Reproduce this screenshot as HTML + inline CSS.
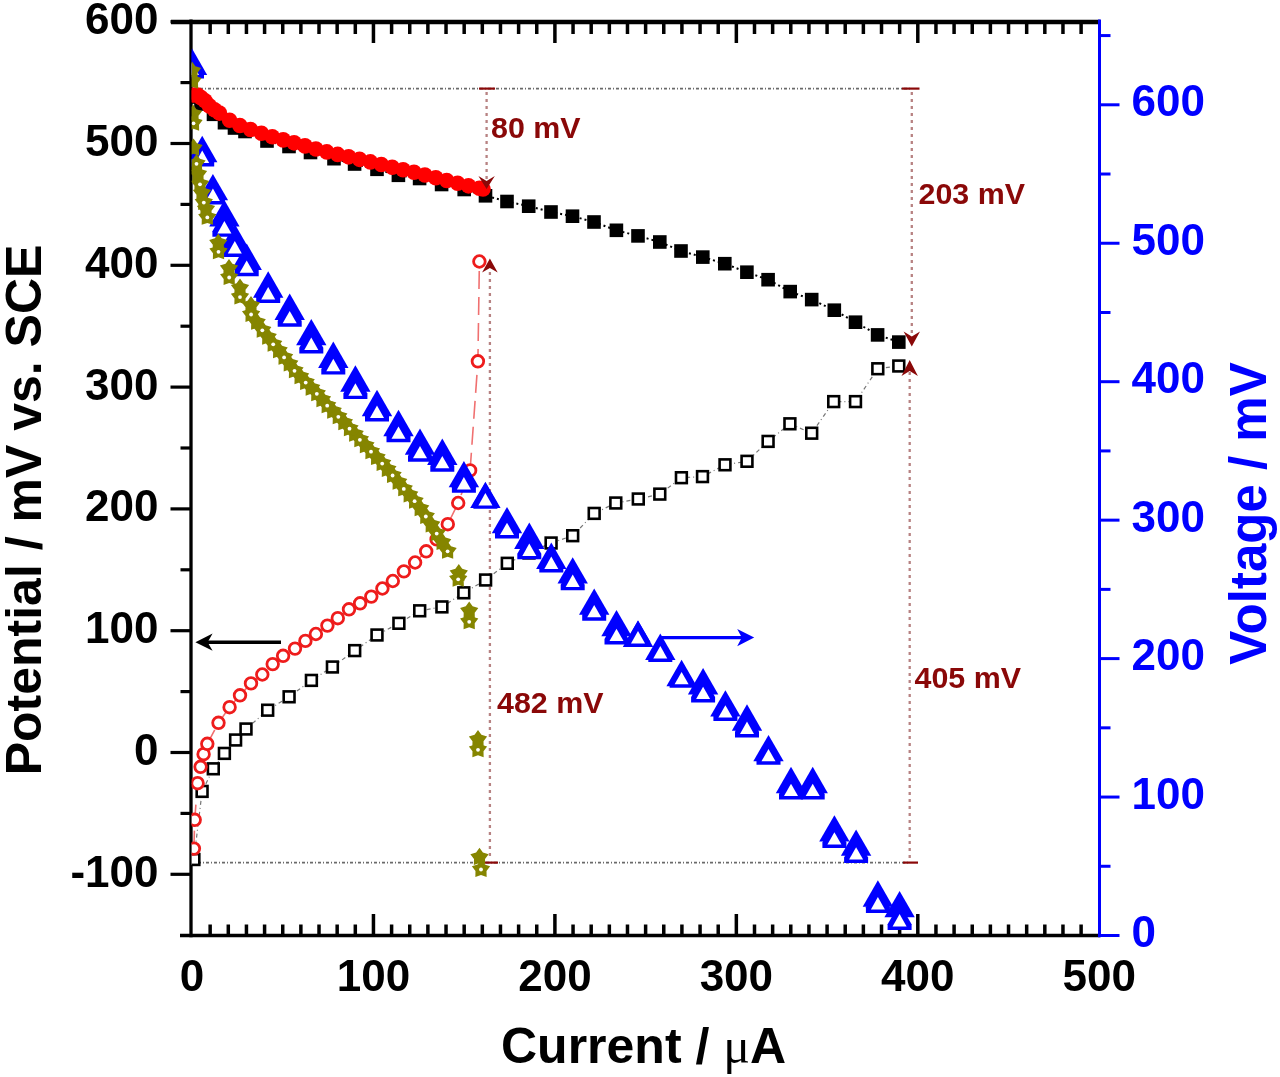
<!DOCTYPE html>
<html><head><meta charset="utf-8"><title>chart</title>
<style>html,body{margin:0;padding:0;background:#fff;}body{width:1280px;height:1077px;overflow:hidden;}svg{display:block;filter:blur(0.5px);}</style>
</head><body>
<svg width="1280" height="1077" viewBox="0 0 1280 1077">
<defs>
<clipPath id="plot"><rect x="191.6" y="21" width="907.4" height="914"/></clipPath>
<g id="triA"><path d="M0,0 L15.2,26.4 L-15.2,26.4 Z" fill="#0000ff"/></g>
<g id="triB"><path d="M0,0 L12,20.8 L12,26.4 L-12,26.4 L-12,20.8 Z" fill="#0000ff"/><path d="M0,10.6 L7,23 L-7,23 Z" fill="#fff"/></g>
<path id="star" d="M0,-9.6 L3.41,-4.69 L9.13,-2.97 L5.52,1.79 L5.64,7.77 L0,5.8 L-5.64,7.77 L-5.52,1.79 L-9.13,-2.97 L-3.41,-4.69 Z" fill="#858500" />
</defs>
<rect width="1280" height="1077" fill="#fff"/>
<g stroke="#000" stroke-linecap="butt">
<line x1="171" y1="22" x2="1100" y2="22" stroke-width="4.4"/>
<line x1="180" y1="935.5" x2="1100" y2="935.5" stroke-width="3.6"/>
<line x1="191" y1="19.5" x2="191" y2="937.3" stroke-width="3.3"/>
<line x1="170.5" y1="874.3" x2="191" y2="874.3" stroke-width="3.2"/>
<line x1="170.5" y1="752.5" x2="191" y2="752.5" stroke-width="3.2"/>
<line x1="170.5" y1="630.7" x2="191" y2="630.7" stroke-width="3.2"/>
<line x1="170.5" y1="508.9" x2="191" y2="508.9" stroke-width="3.2"/>
<line x1="170.5" y1="387.1" x2="191" y2="387.1" stroke-width="3.2"/>
<line x1="170.5" y1="265.3" x2="191" y2="265.3" stroke-width="3.2"/>
<line x1="170.5" y1="143.5" x2="191" y2="143.5" stroke-width="3.2"/>
<line x1="170.5" y1="21.7" x2="191" y2="21.7" stroke-width="3.2"/>
<line x1="180.5" y1="813.4" x2="191" y2="813.4" stroke-width="3.2"/>
<line x1="180.5" y1="691.6" x2="191" y2="691.6" stroke-width="3.2"/>
<line x1="180.5" y1="569.8" x2="191" y2="569.8" stroke-width="3.2"/>
<line x1="180.5" y1="448" x2="191" y2="448" stroke-width="3.2"/>
<line x1="180.5" y1="326.2" x2="191" y2="326.2" stroke-width="3.2"/>
<line x1="180.5" y1="204.4" x2="191" y2="204.4" stroke-width="3.2"/>
<line x1="180.5" y1="82.6" x2="191" y2="82.6" stroke-width="3.2"/>
<line x1="210.15" y1="22" x2="210.15" y2="34" stroke-width="3.5"/>
<line x1="210.15" y1="935.5" x2="210.15" y2="924.5" stroke-width="3.5"/>
<line x1="228.29" y1="22" x2="228.29" y2="34" stroke-width="3.5"/>
<line x1="228.29" y1="935.5" x2="228.29" y2="924.5" stroke-width="3.5"/>
<line x1="246.44" y1="22" x2="246.44" y2="34" stroke-width="3.5"/>
<line x1="246.44" y1="935.5" x2="246.44" y2="924.5" stroke-width="3.5"/>
<line x1="264.58" y1="22" x2="264.58" y2="34" stroke-width="3.5"/>
<line x1="264.58" y1="935.5" x2="264.58" y2="924.5" stroke-width="3.5"/>
<line x1="282.73" y1="22" x2="282.73" y2="34" stroke-width="3.5"/>
<line x1="282.73" y1="935.5" x2="282.73" y2="924.5" stroke-width="3.5"/>
<line x1="300.87" y1="22" x2="300.87" y2="34" stroke-width="3.5"/>
<line x1="300.87" y1="935.5" x2="300.87" y2="924.5" stroke-width="3.5"/>
<line x1="319.01" y1="22" x2="319.01" y2="34" stroke-width="3.5"/>
<line x1="319.01" y1="935.5" x2="319.01" y2="924.5" stroke-width="3.5"/>
<line x1="337.16" y1="22" x2="337.16" y2="34" stroke-width="3.5"/>
<line x1="337.16" y1="935.5" x2="337.16" y2="924.5" stroke-width="3.5"/>
<line x1="355.31" y1="22" x2="355.31" y2="34" stroke-width="3.5"/>
<line x1="355.31" y1="935.5" x2="355.31" y2="924.5" stroke-width="3.5"/>
<line x1="373.45" y1="22" x2="373.45" y2="43" stroke-width="3.5"/>
<line x1="373.45" y1="935.5" x2="373.45" y2="914" stroke-width="3.5"/>
<line x1="391.6" y1="22" x2="391.6" y2="34" stroke-width="3.5"/>
<line x1="391.6" y1="935.5" x2="391.6" y2="924.5" stroke-width="3.5"/>
<line x1="409.74" y1="22" x2="409.74" y2="34" stroke-width="3.5"/>
<line x1="409.74" y1="935.5" x2="409.74" y2="924.5" stroke-width="3.5"/>
<line x1="427.88" y1="22" x2="427.88" y2="34" stroke-width="3.5"/>
<line x1="427.88" y1="935.5" x2="427.88" y2="924.5" stroke-width="3.5"/>
<line x1="446.03" y1="22" x2="446.03" y2="34" stroke-width="3.5"/>
<line x1="446.03" y1="935.5" x2="446.03" y2="924.5" stroke-width="3.5"/>
<line x1="464.18" y1="22" x2="464.18" y2="34" stroke-width="3.5"/>
<line x1="464.18" y1="935.5" x2="464.18" y2="924.5" stroke-width="3.5"/>
<line x1="482.32" y1="22" x2="482.32" y2="34" stroke-width="3.5"/>
<line x1="482.32" y1="935.5" x2="482.32" y2="924.5" stroke-width="3.5"/>
<line x1="500.46" y1="22" x2="500.46" y2="34" stroke-width="3.5"/>
<line x1="500.46" y1="935.5" x2="500.46" y2="924.5" stroke-width="3.5"/>
<line x1="518.61" y1="22" x2="518.61" y2="34" stroke-width="3.5"/>
<line x1="518.61" y1="935.5" x2="518.61" y2="924.5" stroke-width="3.5"/>
<line x1="536.75" y1="22" x2="536.75" y2="34" stroke-width="3.5"/>
<line x1="536.75" y1="935.5" x2="536.75" y2="924.5" stroke-width="3.5"/>
<line x1="554.9" y1="22" x2="554.9" y2="43" stroke-width="3.5"/>
<line x1="554.9" y1="935.5" x2="554.9" y2="914" stroke-width="3.5"/>
<line x1="573.05" y1="22" x2="573.05" y2="34" stroke-width="3.5"/>
<line x1="573.05" y1="935.5" x2="573.05" y2="924.5" stroke-width="3.5"/>
<line x1="591.19" y1="22" x2="591.19" y2="34" stroke-width="3.5"/>
<line x1="591.19" y1="935.5" x2="591.19" y2="924.5" stroke-width="3.5"/>
<line x1="609.34" y1="22" x2="609.34" y2="34" stroke-width="3.5"/>
<line x1="609.34" y1="935.5" x2="609.34" y2="924.5" stroke-width="3.5"/>
<line x1="627.48" y1="22" x2="627.48" y2="34" stroke-width="3.5"/>
<line x1="627.48" y1="935.5" x2="627.48" y2="924.5" stroke-width="3.5"/>
<line x1="645.62" y1="22" x2="645.62" y2="34" stroke-width="3.5"/>
<line x1="645.62" y1="935.5" x2="645.62" y2="924.5" stroke-width="3.5"/>
<line x1="663.77" y1="22" x2="663.77" y2="34" stroke-width="3.5"/>
<line x1="663.77" y1="935.5" x2="663.77" y2="924.5" stroke-width="3.5"/>
<line x1="681.91" y1="22" x2="681.91" y2="34" stroke-width="3.5"/>
<line x1="681.91" y1="935.5" x2="681.91" y2="924.5" stroke-width="3.5"/>
<line x1="700.06" y1="22" x2="700.06" y2="34" stroke-width="3.5"/>
<line x1="700.06" y1="935.5" x2="700.06" y2="924.5" stroke-width="3.5"/>
<line x1="718.21" y1="22" x2="718.21" y2="34" stroke-width="3.5"/>
<line x1="718.21" y1="935.5" x2="718.21" y2="924.5" stroke-width="3.5"/>
<line x1="736.35" y1="22" x2="736.35" y2="43" stroke-width="3.5"/>
<line x1="736.35" y1="935.5" x2="736.35" y2="914" stroke-width="3.5"/>
<line x1="754.5" y1="22" x2="754.5" y2="34" stroke-width="3.5"/>
<line x1="754.5" y1="935.5" x2="754.5" y2="924.5" stroke-width="3.5"/>
<line x1="772.64" y1="22" x2="772.64" y2="34" stroke-width="3.5"/>
<line x1="772.64" y1="935.5" x2="772.64" y2="924.5" stroke-width="3.5"/>
<line x1="790.78" y1="22" x2="790.78" y2="34" stroke-width="3.5"/>
<line x1="790.78" y1="935.5" x2="790.78" y2="924.5" stroke-width="3.5"/>
<line x1="808.93" y1="22" x2="808.93" y2="34" stroke-width="3.5"/>
<line x1="808.93" y1="935.5" x2="808.93" y2="924.5" stroke-width="3.5"/>
<line x1="827.08" y1="22" x2="827.08" y2="34" stroke-width="3.5"/>
<line x1="827.08" y1="935.5" x2="827.08" y2="924.5" stroke-width="3.5"/>
<line x1="845.22" y1="22" x2="845.22" y2="34" stroke-width="3.5"/>
<line x1="845.22" y1="935.5" x2="845.22" y2="924.5" stroke-width="3.5"/>
<line x1="863.37" y1="22" x2="863.37" y2="34" stroke-width="3.5"/>
<line x1="863.37" y1="935.5" x2="863.37" y2="924.5" stroke-width="3.5"/>
<line x1="881.51" y1="22" x2="881.51" y2="34" stroke-width="3.5"/>
<line x1="881.51" y1="935.5" x2="881.51" y2="924.5" stroke-width="3.5"/>
<line x1="899.65" y1="22" x2="899.65" y2="34" stroke-width="3.5"/>
<line x1="899.65" y1="935.5" x2="899.65" y2="924.5" stroke-width="3.5"/>
<line x1="917.8" y1="22" x2="917.8" y2="43" stroke-width="3.5"/>
<line x1="917.8" y1="935.5" x2="917.8" y2="914" stroke-width="3.5"/>
<line x1="935.95" y1="22" x2="935.95" y2="34" stroke-width="3.5"/>
<line x1="935.95" y1="935.5" x2="935.95" y2="924.5" stroke-width="3.5"/>
<line x1="954.09" y1="22" x2="954.09" y2="34" stroke-width="3.5"/>
<line x1="954.09" y1="935.5" x2="954.09" y2="924.5" stroke-width="3.5"/>
<line x1="972.24" y1="22" x2="972.24" y2="34" stroke-width="3.5"/>
<line x1="972.24" y1="935.5" x2="972.24" y2="924.5" stroke-width="3.5"/>
<line x1="990.38" y1="22" x2="990.38" y2="34" stroke-width="3.5"/>
<line x1="990.38" y1="935.5" x2="990.38" y2="924.5" stroke-width="3.5"/>
<line x1="1008.52" y1="22" x2="1008.52" y2="34" stroke-width="3.5"/>
<line x1="1008.52" y1="935.5" x2="1008.52" y2="924.5" stroke-width="3.5"/>
<line x1="1026.67" y1="22" x2="1026.67" y2="34" stroke-width="3.5"/>
<line x1="1026.67" y1="935.5" x2="1026.67" y2="924.5" stroke-width="3.5"/>
<line x1="1044.82" y1="22" x2="1044.82" y2="34" stroke-width="3.5"/>
<line x1="1044.82" y1="935.5" x2="1044.82" y2="924.5" stroke-width="3.5"/>
<line x1="1062.96" y1="22" x2="1062.96" y2="34" stroke-width="3.5"/>
<line x1="1062.96" y1="935.5" x2="1062.96" y2="924.5" stroke-width="3.5"/>
<line x1="1081.11" y1="22" x2="1081.11" y2="34" stroke-width="3.5"/>
<line x1="1081.11" y1="935.5" x2="1081.11" y2="924.5" stroke-width="3.5"/>
</g>
<g stroke="#0000ff">
<line x1="1099.5" y1="19.5" x2="1099.5" y2="937.3" stroke-width="3"/>
<line x1="1099.5" y1="935.5" x2="1119.5" y2="935.5" stroke-width="3"/>
<line x1="1099.5" y1="797.05" x2="1119.5" y2="797.05" stroke-width="3"/>
<line x1="1099.5" y1="658.6" x2="1119.5" y2="658.6" stroke-width="3"/>
<line x1="1099.5" y1="520.15" x2="1119.5" y2="520.15" stroke-width="3"/>
<line x1="1099.5" y1="381.7" x2="1119.5" y2="381.7" stroke-width="3"/>
<line x1="1099.5" y1="243.25" x2="1119.5" y2="243.25" stroke-width="3"/>
<line x1="1099.5" y1="104.8" x2="1119.5" y2="104.8" stroke-width="3"/>
<line x1="1099.5" y1="866.27" x2="1110.5" y2="866.27" stroke-width="3"/>
<line x1="1099.5" y1="727.83" x2="1110.5" y2="727.83" stroke-width="3"/>
<line x1="1099.5" y1="589.38" x2="1110.5" y2="589.38" stroke-width="3"/>
<line x1="1099.5" y1="450.92" x2="1110.5" y2="450.92" stroke-width="3"/>
<line x1="1099.5" y1="312.48" x2="1110.5" y2="312.48" stroke-width="3"/>
<line x1="1099.5" y1="174.02" x2="1110.5" y2="174.02" stroke-width="3"/>
<line x1="1099.5" y1="35.57" x2="1110.5" y2="35.57" stroke-width="3"/>
</g>
<g stroke="#6a6a6a" stroke-width="1.6" stroke-dasharray="3 2 1 2">
<line x1="200" y1="88.6" x2="912" y2="88.6"/>
<line x1="198" y1="862.6" x2="910" y2="862.6"/>
</g>
<g stroke="#8a0808" stroke-width="2.2" fill="none">
<line x1="479" y1="88.6" x2="495" y2="88.6"/><line x1="902" y1="88.6" x2="919.5" y2="88.6"/>
<line x1="484" y1="862.6" x2="498" y2="862.6"/><line x1="903" y1="862.6" x2="918" y2="862.6"/>
</g>
<g stroke="#964848" stroke-width="2.3" stroke-dasharray="3 4" opacity="0.68">
<line x1="486.6" y1="92" x2="486.6" y2="181"/>
<line x1="911.8" y1="92" x2="911.8" y2="338"/>
<line x1="489.9" y1="272" x2="489.9" y2="860"/>
<line x1="909.7" y1="372" x2="909.7" y2="860"/>
</g>
<g clip-path="url(#plot)">
<polyline points="193.9,859.5 202.1,791.4 213.3,768.8 224.4,753.4 235.6,740 246,729 267.7,710.2 289.1,696.8 311.4,680.4 332.4,667 354.7,650.6 377,635 398.9,623.3 419.7,610.8 441.9,606.9 463.8,592.8 485.6,580 507.3,563.3 529,553 551.1,543 572.7,535.7 594.2,513.4 615.8,503 638.3,499 659.8,494.1 681.4,477.7 702.5,476.6 725,464.8 747,461.3 768.1,441.4 789.9,423.8 811.7,433.2 833.7,401.6 855.5,401.6 877.8,368.75 898.8,366" fill="none" stroke="#777" stroke-width="1.2" stroke-dasharray="4 3 1 3"/>
<polyline points="193.9,848.6 194.7,819.8 197.6,783.2 200.6,766.8 203.6,754.2 207.3,743.8 218.5,722.8 229.6,707.2 240,695.3 251,683.4 262.3,674.5 272.7,664.1 283.1,655.8 295,648.6 305.4,640.9 315.9,634 327.4,625.6 337.8,618.2 349,609.3 360.1,603.3 371.3,596.6 382.4,588.5 392.8,581 403.9,571.4 415.1,562.5 426.2,551.3 436.6,539.4 447.8,524.2 458.2,503 470.1,470.4 477.9,361.3 479.4,261.5" fill="none" stroke="#f07070" stroke-width="1.6" stroke-dasharray="18 8"/>
<polyline points="192,97 201,104 213.5,114.3 224.5,122.7 234.5,128 245,131.5 267,141 289,146.5 310.5,152.5 334,158.7 354.6,164 377,169.3 398.4,175.3 419.6,178.5 441.6,184.5 464.2,189.5 485.5,195.8 507,201.5 528.7,206.2 551,212 572.5,216.2 594,222 616.4,230.3 638,235.9 659.8,242 681,251 702.8,257.1 724.8,263.7 746.9,272.2 768.1,279.7 790.2,291.6 811.7,299.6 834.3,310.2 855.5,322.2 877.6,334.9 898.8,342.1" fill="none" stroke="#000" stroke-width="2" stroke-dasharray="2 3"/>
<rect x="188.5" y="854.1" width="10.8" height="10.8" fill="#fff" stroke="#000" stroke-width="2.6"/>
<rect x="196.7" y="786" width="10.8" height="10.8" fill="#fff" stroke="#000" stroke-width="2.6"/>
<rect x="207.9" y="763.4" width="10.8" height="10.8" fill="#fff" stroke="#000" stroke-width="2.6"/>
<rect x="219" y="748" width="10.8" height="10.8" fill="#fff" stroke="#000" stroke-width="2.6"/>
<rect x="230.2" y="734.6" width="10.8" height="10.8" fill="#fff" stroke="#000" stroke-width="2.6"/>
<rect x="240.6" y="723.6" width="10.8" height="10.8" fill="#fff" stroke="#000" stroke-width="2.6"/>
<rect x="262.3" y="704.8" width="10.8" height="10.8" fill="#fff" stroke="#000" stroke-width="2.6"/>
<rect x="283.7" y="691.4" width="10.8" height="10.8" fill="#fff" stroke="#000" stroke-width="2.6"/>
<rect x="306" y="675" width="10.8" height="10.8" fill="#fff" stroke="#000" stroke-width="2.6"/>
<rect x="327" y="661.6" width="10.8" height="10.8" fill="#fff" stroke="#000" stroke-width="2.6"/>
<rect x="349.3" y="645.2" width="10.8" height="10.8" fill="#fff" stroke="#000" stroke-width="2.6"/>
<rect x="371.6" y="629.6" width="10.8" height="10.8" fill="#fff" stroke="#000" stroke-width="2.6"/>
<rect x="393.5" y="617.9" width="10.8" height="10.8" fill="#fff" stroke="#000" stroke-width="2.6"/>
<rect x="414.3" y="605.4" width="10.8" height="10.8" fill="#fff" stroke="#000" stroke-width="2.6"/>
<rect x="436.5" y="601.5" width="10.8" height="10.8" fill="#fff" stroke="#000" stroke-width="2.6"/>
<rect x="458.4" y="587.4" width="10.8" height="10.8" fill="#fff" stroke="#000" stroke-width="2.6"/>
<rect x="480.2" y="574.6" width="10.8" height="10.8" fill="#fff" stroke="#000" stroke-width="2.6"/>
<rect x="501.9" y="557.9" width="10.8" height="10.8" fill="#fff" stroke="#000" stroke-width="2.6"/>
<rect x="523.6" y="547.6" width="10.8" height="10.8" fill="#fff" stroke="#000" stroke-width="2.6"/>
<rect x="545.7" y="537.6" width="10.8" height="10.8" fill="#fff" stroke="#000" stroke-width="2.6"/>
<rect x="567.3" y="530.3" width="10.8" height="10.8" fill="#fff" stroke="#000" stroke-width="2.6"/>
<rect x="588.8" y="508" width="10.8" height="10.8" fill="#fff" stroke="#000" stroke-width="2.6"/>
<rect x="610.4" y="497.6" width="10.8" height="10.8" fill="#fff" stroke="#000" stroke-width="2.6"/>
<rect x="632.9" y="493.6" width="10.8" height="10.8" fill="#fff" stroke="#000" stroke-width="2.6"/>
<rect x="654.4" y="488.7" width="10.8" height="10.8" fill="#fff" stroke="#000" stroke-width="2.6"/>
<rect x="676" y="472.3" width="10.8" height="10.8" fill="#fff" stroke="#000" stroke-width="2.6"/>
<rect x="697.1" y="471.2" width="10.8" height="10.8" fill="#fff" stroke="#000" stroke-width="2.6"/>
<rect x="719.6" y="459.4" width="10.8" height="10.8" fill="#fff" stroke="#000" stroke-width="2.6"/>
<rect x="741.6" y="455.9" width="10.8" height="10.8" fill="#fff" stroke="#000" stroke-width="2.6"/>
<rect x="762.7" y="436" width="10.8" height="10.8" fill="#fff" stroke="#000" stroke-width="2.6"/>
<rect x="784.5" y="418.4" width="10.8" height="10.8" fill="#fff" stroke="#000" stroke-width="2.6"/>
<rect x="806.3" y="427.8" width="10.8" height="10.8" fill="#fff" stroke="#000" stroke-width="2.6"/>
<rect x="828.3" y="396.2" width="10.8" height="10.8" fill="#fff" stroke="#000" stroke-width="2.6"/>
<rect x="850.1" y="396.2" width="10.8" height="10.8" fill="#fff" stroke="#000" stroke-width="2.6"/>
<rect x="872.4" y="363.35" width="10.8" height="10.8" fill="#fff" stroke="#000" stroke-width="2.6"/>
<rect x="893.4" y="360.6" width="10.8" height="10.8" fill="#fff" stroke="#000" stroke-width="2.6"/>
<circle cx="193.9" cy="848.6" r="5.8" fill="#fff" stroke="#ee1c1c" stroke-width="2.8"/>
<circle cx="194.7" cy="819.8" r="5.8" fill="#fff" stroke="#ee1c1c" stroke-width="2.8"/>
<circle cx="197.6" cy="783.2" r="5.8" fill="#fff" stroke="#ee1c1c" stroke-width="2.8"/>
<circle cx="200.6" cy="766.8" r="5.8" fill="#fff" stroke="#ee1c1c" stroke-width="2.8"/>
<circle cx="203.6" cy="754.2" r="5.8" fill="#fff" stroke="#ee1c1c" stroke-width="2.8"/>
<circle cx="207.3" cy="743.8" r="5.8" fill="#fff" stroke="#ee1c1c" stroke-width="2.8"/>
<circle cx="218.5" cy="722.8" r="5.8" fill="#fff" stroke="#ee1c1c" stroke-width="2.8"/>
<circle cx="229.6" cy="707.2" r="5.8" fill="#fff" stroke="#ee1c1c" stroke-width="2.8"/>
<circle cx="240" cy="695.3" r="5.8" fill="#fff" stroke="#ee1c1c" stroke-width="2.8"/>
<circle cx="251" cy="683.4" r="5.8" fill="#fff" stroke="#ee1c1c" stroke-width="2.8"/>
<circle cx="262.3" cy="674.5" r="5.8" fill="#fff" stroke="#ee1c1c" stroke-width="2.8"/>
<circle cx="272.7" cy="664.1" r="5.8" fill="#fff" stroke="#ee1c1c" stroke-width="2.8"/>
<circle cx="283.1" cy="655.8" r="5.8" fill="#fff" stroke="#ee1c1c" stroke-width="2.8"/>
<circle cx="295" cy="648.6" r="5.8" fill="#fff" stroke="#ee1c1c" stroke-width="2.8"/>
<circle cx="305.4" cy="640.9" r="5.8" fill="#fff" stroke="#ee1c1c" stroke-width="2.8"/>
<circle cx="315.9" cy="634" r="5.8" fill="#fff" stroke="#ee1c1c" stroke-width="2.8"/>
<circle cx="327.4" cy="625.6" r="5.8" fill="#fff" stroke="#ee1c1c" stroke-width="2.8"/>
<circle cx="337.8" cy="618.2" r="5.8" fill="#fff" stroke="#ee1c1c" stroke-width="2.8"/>
<circle cx="349" cy="609.3" r="5.8" fill="#fff" stroke="#ee1c1c" stroke-width="2.8"/>
<circle cx="360.1" cy="603.3" r="5.8" fill="#fff" stroke="#ee1c1c" stroke-width="2.8"/>
<circle cx="371.3" cy="596.6" r="5.8" fill="#fff" stroke="#ee1c1c" stroke-width="2.8"/>
<circle cx="382.4" cy="588.5" r="5.8" fill="#fff" stroke="#ee1c1c" stroke-width="2.8"/>
<circle cx="392.8" cy="581" r="5.8" fill="#fff" stroke="#ee1c1c" stroke-width="2.8"/>
<circle cx="403.9" cy="571.4" r="5.8" fill="#fff" stroke="#ee1c1c" stroke-width="2.8"/>
<circle cx="415.1" cy="562.5" r="5.8" fill="#fff" stroke="#ee1c1c" stroke-width="2.8"/>
<circle cx="426.2" cy="551.3" r="5.8" fill="#fff" stroke="#ee1c1c" stroke-width="2.8"/>
<circle cx="436.6" cy="539.4" r="5.8" fill="#fff" stroke="#ee1c1c" stroke-width="2.8"/>
<circle cx="447.8" cy="524.2" r="5.8" fill="#fff" stroke="#ee1c1c" stroke-width="2.8"/>
<circle cx="458.2" cy="503" r="5.8" fill="#fff" stroke="#ee1c1c" stroke-width="2.8"/>
<circle cx="470.1" cy="470.4" r="5.8" fill="#fff" stroke="#ee1c1c" stroke-width="2.8"/>
<circle cx="477.9" cy="361.3" r="5.8" fill="#fff" stroke="#ee1c1c" stroke-width="2.8"/>
<circle cx="479.4" cy="261.5" r="5.8" fill="#fff" stroke="#ee1c1c" stroke-width="2.8"/>
<rect x="185.2" y="90.2" width="13.6" height="13.6" fill="#000"/>
<rect x="194.2" y="97.2" width="13.6" height="13.6" fill="#000"/>
<rect x="206.7" y="107.5" width="13.6" height="13.6" fill="#000"/>
<rect x="217.7" y="115.9" width="13.6" height="13.6" fill="#000"/>
<rect x="227.7" y="121.2" width="13.6" height="13.6" fill="#000"/>
<rect x="238.2" y="124.7" width="13.6" height="13.6" fill="#000"/>
<rect x="260.2" y="134.2" width="13.6" height="13.6" fill="#000"/>
<rect x="282.2" y="139.7" width="13.6" height="13.6" fill="#000"/>
<rect x="303.7" y="145.7" width="13.6" height="13.6" fill="#000"/>
<rect x="327.2" y="151.9" width="13.6" height="13.6" fill="#000"/>
<rect x="347.8" y="157.2" width="13.6" height="13.6" fill="#000"/>
<rect x="370.2" y="162.5" width="13.6" height="13.6" fill="#000"/>
<rect x="391.6" y="168.5" width="13.6" height="13.6" fill="#000"/>
<rect x="412.8" y="171.7" width="13.6" height="13.6" fill="#000"/>
<rect x="434.8" y="177.7" width="13.6" height="13.6" fill="#000"/>
<rect x="457.4" y="182.7" width="13.6" height="13.6" fill="#000"/>
<rect x="478.7" y="189" width="13.6" height="13.6" fill="#000"/>
<rect x="500.2" y="194.7" width="13.6" height="13.6" fill="#000"/>
<rect x="521.9" y="199.4" width="13.6" height="13.6" fill="#000"/>
<rect x="544.2" y="205.2" width="13.6" height="13.6" fill="#000"/>
<rect x="565.7" y="209.4" width="13.6" height="13.6" fill="#000"/>
<rect x="587.2" y="215.2" width="13.6" height="13.6" fill="#000"/>
<rect x="609.6" y="223.5" width="13.6" height="13.6" fill="#000"/>
<rect x="631.2" y="229.1" width="13.6" height="13.6" fill="#000"/>
<rect x="653" y="235.2" width="13.6" height="13.6" fill="#000"/>
<rect x="674.2" y="244.2" width="13.6" height="13.6" fill="#000"/>
<rect x="696" y="250.3" width="13.6" height="13.6" fill="#000"/>
<rect x="718" y="256.9" width="13.6" height="13.6" fill="#000"/>
<rect x="740.1" y="265.4" width="13.6" height="13.6" fill="#000"/>
<rect x="761.3" y="272.9" width="13.6" height="13.6" fill="#000"/>
<rect x="783.4" y="284.8" width="13.6" height="13.6" fill="#000"/>
<rect x="804.9" y="292.8" width="13.6" height="13.6" fill="#000"/>
<rect x="827.5" y="303.4" width="13.6" height="13.6" fill="#000"/>
<rect x="848.7" y="315.4" width="13.6" height="13.6" fill="#000"/>
<rect x="870.8" y="328.1" width="13.6" height="13.6" fill="#000"/>
<rect x="892" y="335.3" width="13.6" height="13.6" fill="#000"/>
<circle cx="194" cy="95" r="7.8" fill="#ff0000"/>
<circle cx="197.5" cy="95" r="7.8" fill="#ff0000"/>
<circle cx="201" cy="97.62" r="7.8" fill="#ff0000"/>
<circle cx="205" cy="100.7" r="7.8" fill="#ff0000"/>
<circle cx="209.5" cy="105.9" r="7.8" fill="#ff0000"/>
<circle cx="214.5" cy="109.83" r="7.8" fill="#ff0000"/>
<circle cx="219.4" cy="113.08" r="7.8" fill="#ff0000"/>
<circle cx="229.6" cy="120.22" r="7.8" fill="#ff0000"/>
<circle cx="239.8" cy="125.57" r="7.8" fill="#ff0000"/>
<circle cx="250.5" cy="129.49" r="7.8" fill="#ff0000"/>
<circle cx="261.4" cy="133.2" r="7.8" fill="#ff0000"/>
<circle cx="272.3" cy="136.69" r="7.8" fill="#ff0000"/>
<circle cx="283.2" cy="139.87" r="7.8" fill="#ff0000"/>
<circle cx="294.1" cy="142.83" r="7.8" fill="#ff0000"/>
<circle cx="305" cy="145.88" r="7.8" fill="#ff0000"/>
<circle cx="315.9" cy="149.02" r="7.8" fill="#ff0000"/>
<circle cx="326.8" cy="151.92" r="7.8" fill="#ff0000"/>
<circle cx="337.7" cy="154.41" r="7.8" fill="#ff0000"/>
<circle cx="348.6" cy="156.83" r="7.8" fill="#ff0000"/>
<circle cx="359.5" cy="159.35" r="7.8" fill="#ff0000"/>
<circle cx="370.4" cy="161.9" r="7.8" fill="#ff0000"/>
<circle cx="381.3" cy="164.57" r="7.8" fill="#ff0000"/>
<circle cx="392.2" cy="167.21" r="7.8" fill="#ff0000"/>
<circle cx="403.1" cy="169.71" r="7.8" fill="#ff0000"/>
<circle cx="414" cy="172.3" r="7.8" fill="#ff0000"/>
<circle cx="424.9" cy="175.02" r="7.8" fill="#ff0000"/>
<circle cx="435.8" cy="177.75" r="7.8" fill="#ff0000"/>
<circle cx="446.7" cy="180.47" r="7.8" fill="#ff0000"/>
<circle cx="457.6" cy="183.2" r="7.8" fill="#ff0000"/>
<circle cx="468.5" cy="185.84" r="7.8" fill="#ff0000"/>
<circle cx="479.4" cy="188.22" r="7.8" fill="#ff0000"/>
<circle cx="483" cy="189" r="7.8" fill="#ff0000"/>
<use href="#triA" x="192" y="48.5"/>
<use href="#triA" x="202.2" y="135.8"/>
<use href="#triA" x="212.9" y="173.9"/>
<use href="#triA" x="224.4" y="200"/>
<use href="#triA" x="234.8" y="224"/>
<use href="#triA" x="246.7" y="243.5"/>
<use href="#triA" x="268.2" y="271.3"/>
<use href="#triA" x="289.7" y="293.6"/>
<use href="#triA" x="311.3" y="318.9"/>
<use href="#triA" x="333.3" y="341.5"/>
<use href="#triA" x="355.4" y="365.3"/>
<use href="#triA" x="377" y="389.8"/>
<use href="#triA" x="398.5" y="409.8"/>
<use href="#triA" x="420" y="428.4"/>
<use href="#triA" x="442.3" y="438.6"/>
<use href="#triA" x="463.9" y="460.9"/>
<use href="#triA" x="485.4" y="481.7"/>
<use href="#triA" x="507" y="506.9"/>
<use href="#triA" x="529.3" y="522.5"/>
<use href="#triA" x="551.3" y="542.5"/>
<use href="#triA" x="572.7" y="557.2"/>
<use href="#triA" x="594.2" y="588.4"/>
<use href="#triA" x="616.5" y="609.9"/>
<use href="#triA" x="638" y="620.5"/>
<use href="#triA" x="660.3" y="633.5"/>
<use href="#triA" x="681.6" y="659.8"/>
<use href="#triA" x="703.1" y="668"/>
<use href="#triA" x="725.4" y="690.2"/>
<use href="#triA" x="747" y="704.3"/>
<use href="#triA" x="768.5" y="734.9"/>
<use href="#triA" x="791" y="766.8"/>
<use href="#triA" x="812.7" y="766.8"/>
<use href="#triA" x="834.4" y="815.2"/>
<use href="#triA" x="856.1" y="829.4"/>
<use href="#triA" x="877.9" y="880.3"/>
<use href="#triA" x="899.6" y="890.9"/>
<use href="#triB" x="192" y="52"/>
<use href="#triB" x="202.2" y="140"/>
<use href="#triB" x="212.9" y="178"/>
<use href="#triB" x="224.4" y="210.4"/>
<use href="#triB" x="234.8" y="230.5"/>
<use href="#triB" x="246.7" y="249.8"/>
<use href="#triB" x="268.2" y="276.5"/>
<use href="#triB" x="289.7" y="300.3"/>
<use href="#triB" x="311.3" y="327"/>
<use href="#triB" x="333.3" y="348.2"/>
<use href="#triB" x="355.4" y="372.7"/>
<use href="#triB" x="377" y="395"/>
<use href="#triB" x="398.5" y="415.8"/>
<use href="#triB" x="420" y="435.3"/>
<use href="#triB" x="442.3" y="445.3"/>
<use href="#triB" x="463.9" y="466.4"/>
<use href="#triB" x="485.4" y="482.4"/>
<use href="#triB" x="507" y="512.1"/>
<use href="#triB" x="529.3" y="532.9"/>
<use href="#triB" x="551.3" y="546"/>
<use href="#triB" x="572.7" y="563.9"/>
<use href="#triB" x="594.2" y="594.3"/>
<use href="#triB" x="616.5" y="618.1"/>
<use href="#triB" x="638" y="620.5"/>
<use href="#triB" x="660.3" y="635.5"/>
<use href="#triB" x="681.6" y="661.3"/>
<use href="#triB" x="703.1" y="676.1"/>
<use href="#triB" x="725.4" y="694.6"/>
<use href="#triB" x="747" y="711"/>
<use href="#triB" x="768.5" y="738.3"/>
<use href="#triB" x="791" y="773.1"/>
<use href="#triB" x="812.7" y="773.1"/>
<use href="#triB" x="834.4" y="821.6"/>
<use href="#triB" x="856.1" y="836.6"/>
<use href="#triB" x="877.9" y="886.5"/>
<use href="#triB" x="899.6" y="903.5"/>
<use href="#star" x="192" y="71"/>
<use href="#star" x="192.5" y="81"/>
<use href="#star" x="193" y="114"/>
<use href="#star" x="193.5" y="148"/>
<use href="#star" x="198" y="174"/>
<use href="#star" x="202" y="193"/>
<use href="#star" x="206" y="209"/>
<use href="#star" x="218.3" y="243"/>
<use href="#star" x="229" y="268.5"/>
<use href="#star" x="240" y="288"/>
<use href="#star" x="251" y="305.5"/>
<use href="#star" x="256.7" y="322.1"/>
<use href="#star" x="267.75" y="337"/>
<use href="#star" x="278.65" y="350.55"/>
<use href="#star" x="289.3" y="363.8"/>
<use href="#star" x="300.1" y="376.4"/>
<use href="#star" x="311.25" y="387.9"/>
<use href="#star" x="322" y="399.45"/>
<use href="#star" x="332.75" y="410.95"/>
<use href="#star" x="343.9" y="422.45"/>
<use href="#star" x="354.7" y="433.95"/>
<use href="#star" x="365.45" y="445.45"/>
<use href="#star" x="376.6" y="457.35"/>
<use href="#star" x="387.4" y="469.25"/>
<use href="#star" x="398.2" y="481.9"/>
<use href="#star" x="409.2" y="494.75"/>
<use href="#star" x="420.2" y="508.55"/>
<use href="#star" x="431.25" y="524.75"/>
<use href="#star" x="442.15" y="542.15"/>
<use href="#star" x="458.8" y="573.5"/>
<use href="#star" x="469.2" y="611"/>
<use href="#star" x="478" y="739.5"/>
<use href="#star" x="479.5" y="857.3"/>
<use href="#star" x="193.5" y="123"/>
<use href="#star" x="196.5" y="163.5"/>
<use href="#star" x="200" y="184"/>
<use href="#star" x="203.8" y="202.3"/>
<use href="#star" x="207.3" y="217.1"/>
<use href="#star" x="218.5" y="251.5"/>
<use href="#star" x="229.2" y="277.2"/>
<use href="#star" x="240" y="296.8"/>
<use href="#star" x="251.1" y="314.2"/>
<use href="#star" x="262.3" y="330"/>
<use href="#star" x="273.2" y="344"/>
<use href="#star" x="284.1" y="357.1"/>
<use href="#star" x="294.5" y="370.5"/>
<use href="#star" x="305.7" y="382.3"/>
<use href="#star" x="316.8" y="393.5"/>
<use href="#star" x="327.2" y="405.4"/>
<use href="#star" x="338.3" y="416.5"/>
<use href="#star" x="349.5" y="428.4"/>
<use href="#star" x="359.9" y="439.5"/>
<use href="#star" x="371" y="451.4"/>
<use href="#star" x="382.2" y="463.3"/>
<use href="#star" x="392.6" y="475.2"/>
<use href="#star" x="403.8" y="488.6"/>
<use href="#star" x="414.6" y="500.9"/>
<use href="#star" x="425.8" y="516.2"/>
<use href="#star" x="436.7" y="533.3"/>
<use href="#star" x="447.6" y="551"/>
<use href="#star" x="458.2" y="579"/>
<use href="#star" x="469.2" y="621.5"/>
<use href="#star" x="478" y="749.5"/>
<use href="#star" x="481" y="869.2"/>
<circle cx="193.5" cy="123.3" r="1.9" fill="#fff"/>
<circle cx="196.5" cy="163.8" r="1.9" fill="#fff"/>
<circle cx="200" cy="184.3" r="1.9" fill="#fff"/>
<circle cx="203.8" cy="202.6" r="1.9" fill="#fff"/>
<circle cx="207.3" cy="217.4" r="1.9" fill="#fff"/>
<circle cx="218.5" cy="251.8" r="1.9" fill="#fff"/>
<circle cx="229.2" cy="277.5" r="1.9" fill="#fff"/>
<circle cx="240" cy="297.1" r="1.9" fill="#fff"/>
<circle cx="251.1" cy="314.5" r="1.9" fill="#fff"/>
<circle cx="262.3" cy="330.3" r="1.9" fill="#fff"/>
<circle cx="273.2" cy="344.3" r="1.9" fill="#fff"/>
<circle cx="284.1" cy="357.4" r="1.9" fill="#fff"/>
<circle cx="294.5" cy="370.8" r="1.9" fill="#fff"/>
<circle cx="305.7" cy="382.6" r="1.9" fill="#fff"/>
<circle cx="316.8" cy="393.8" r="1.9" fill="#fff"/>
<circle cx="327.2" cy="405.7" r="1.9" fill="#fff"/>
<circle cx="338.3" cy="416.8" r="1.9" fill="#fff"/>
<circle cx="349.5" cy="428.7" r="1.9" fill="#fff"/>
<circle cx="359.9" cy="439.8" r="1.9" fill="#fff"/>
<circle cx="371" cy="451.7" r="1.9" fill="#fff"/>
<circle cx="382.2" cy="463.6" r="1.9" fill="#fff"/>
<circle cx="392.6" cy="475.5" r="1.9" fill="#fff"/>
<circle cx="403.8" cy="488.9" r="1.9" fill="#fff"/>
<circle cx="414.6" cy="501.2" r="1.9" fill="#fff"/>
<circle cx="425.8" cy="516.5" r="1.9" fill="#fff"/>
<circle cx="436.7" cy="533.6" r="1.9" fill="#fff"/>
<circle cx="447.6" cy="551.3" r="1.9" fill="#fff"/>
<circle cx="458.2" cy="579.3" r="1.9" fill="#fff"/>
<circle cx="469.2" cy="621.8" r="1.9" fill="#fff"/>
<circle cx="478" cy="749.8" r="1.9" fill="#fff"/>
<circle cx="481" cy="869.5" r="1.9" fill="#fff"/>
</g>
<path d="M486.6,189 L478.4,176 L486.6,181 L494.8,176 Z" fill="#8a0808"/>
<path d="M911.8,346.5 L903.6,331.5 L911.8,336.5 L920,331.5 Z" fill="#8a0808"/>
<path d="M489.9,258.5 L497.7,272.5 L489.9,268 L482.1,272.5 Z" fill="#8a0808"/>
<path d="M909.7,360 L917.9,376 L909.7,371 L901.5,376 Z" fill="#8a0808"/>
<line x1="281" y1="642.2" x2="205" y2="642.2" stroke="#000" stroke-width="3.6"/>
<path d="M195.4,642.2 L212.6,633.6 L207.6,642.2 L212.6,650.8 Z" fill="#000"/>
<line x1="660" y1="637.6" x2="745" y2="637.6" stroke="#0000ff" stroke-width="3.2"/>
<path d="M754.2,637.6 L737.2,646.3 L741.8,637.6 L737.2,628.9 Z" fill="#0000ff"/>
<g font-family="Liberation Sans" font-weight="bold" font-size="44" fill="#000" text-anchor="end">
<text x="158.5" y="886.8">-100</text>
<text x="158.5" y="765">0</text>
<text x="158.5" y="643.2">100</text>
<text x="158.5" y="521.4">200</text>
<text x="158.5" y="399.6">300</text>
<text x="158.5" y="277.8">400</text>
<text x="158.5" y="156">500</text>
<text x="158.5" y="34.2">600</text>
</g>
<g font-family="Liberation Sans" font-weight="bold" font-size="44" fill="#000" text-anchor="middle">
<text x="192" y="991">0</text>
<text x="373.45" y="991">100</text>
<text x="554.9" y="991">200</text>
<text x="736.35" y="991">300</text>
<text x="917.8" y="991">400</text>
<text x="1099.25" y="991">500</text>
</g>
<g font-family="Liberation Sans" font-weight="bold" font-size="44" fill="#0000ff" text-anchor="start">
<text x="1131.5" y="947">0</text>
<text x="1131.5" y="808.55">100</text>
<text x="1131.5" y="670.1">200</text>
<text x="1131.5" y="531.65">300</text>
<text x="1131.5" y="393.2">400</text>
<text x="1131.5" y="254.75">500</text>
<text x="1131.5" y="116.3">600</text>
</g>
<g font-family="Liberation Sans" font-weight="bold" font-size="30.4" fill="#8a0808">
<text x="491" y="138">80 mV</text>
<text x="918.5" y="204">203 mV</text>
<text x="497" y="712.5">482 mV</text>
<text x="914.5" y="688">405 mV</text>
</g>
<text font-family="Liberation Sans" font-weight="bold" font-size="50" fill="#000" text-anchor="middle" transform="translate(41,510) rotate(-90)">Potential / mV vs. SCE</text>
<text font-family="Liberation Sans" font-weight="bold" font-size="51" fill="#0000ff" text-anchor="middle" transform="translate(1266,513.5) rotate(-90)">Voltage / mV</text>
<text font-family="Liberation Sans" font-weight="bold" font-size="50" fill="#000" x="501" y="1062.5">Current / <tspan font-family="Liberation Serif" font-weight="normal">&#956;</tspan>A</text>
</svg>
</body></html>
